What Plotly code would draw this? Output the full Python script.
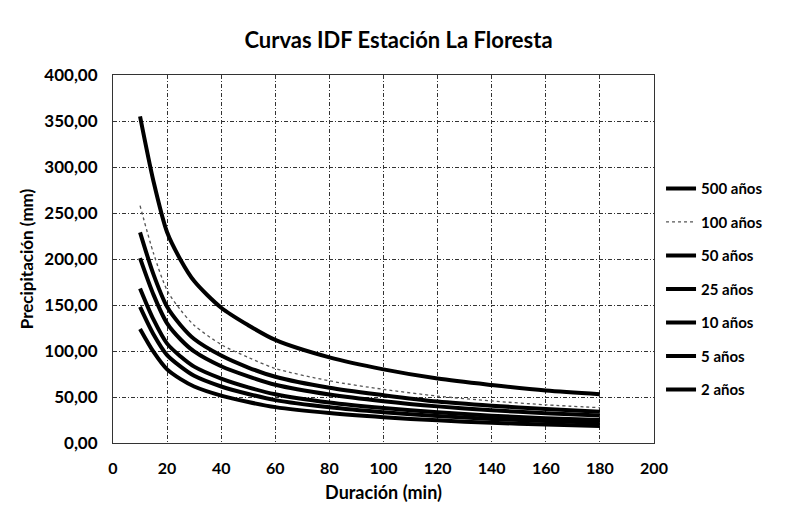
import plotly.graph_objects as go

durations = [10, 15, 20, 25, 30, 40, 50, 60, 80, 100, 120, 140, 160, 180]

p500 = [355, 284, 229, 199, 176, 147, 128, 112, 93, 80, 70, 63, 57, 53]
p100 = [258, 206, 166, 144.5, 128, 107, 93, 81, 67.6, 58.3, 51, 45.7, 41.5, 38.4]
p50 = [229, 183, 148, 128, 113, 95, 82, 72, 60, 52, 45, 40.5, 37, 34]
p25 = [201, 161, 130, 112.5, 99.5, 83.4, 72.4, 63.3, 52.7, 45.4, 39.8, 35.6, 32.4, 30]
p10 = [168, 134, 108, 94, 83, 70, 60.5, 53, 44, 38, 33.3, 29.7, 27, 25]
p5 = [148, 118, 95.5, 83, 73, 61.4, 53.3, 46.6, 38.8, 33.4, 29.3, 26.2, 23.8, 22]
p2 = [124, 99, 80, 69.4, 61.4, 51.5, 44.6, 39, 32.5, 28, 24.6, 22, 20, 18.5]

series_names = ["500 años", "100 años", "50 años", "25 años", "10 años", "5 años", "2 años"]
series_values = [p500, p100, p50, p25, p10, p5, p2]

x_ticks = [0, 20, 40, 60, 80, 100, 120, 140, 160, 180, 200]
y_ticks = [0, 50, 100, 150, 200, 250, 300, 350, 400]

FONT = "Lato"
GRID_DASH = "4px,2px,1px,2px"

fig = go.Figure()
for name, vals in zip(series_names, series_values):
    if name == "100 años":
        line = dict(color="#555555", width=1.3, dash="dot", shape="spline", smoothing=0.8)
    else:
        line = dict(color="#000000", width=4, shape="spline", smoothing=0.8)
    fig.add_trace(go.Scatter(
        x=durations, y=vals, mode="lines", name=name, line=line,
        legendgroup=name,
    ))

# page body has an 8px default margin, so the figure is sized 8px smaller
fig.update_layout(
    width=781, height=510,
    margin=dict(l=105, r=135, t=67, b=75, autoexpand=False),
    paper_bgcolor="white", plot_bgcolor="white",
    separators=",.",
    font=dict(family=FONT, color="#000000", size=14),
    title=dict(text="Curvas IDF Estación La Floresta", x=0.5, xanchor="center",
               y=0.937, yanchor="middle",
               font=dict(family=FONT, size=22, weight="bold", color="#000")),
    showlegend=True,
    legend=dict(x=1.013, xanchor="left", y=0.736, yanchor="top",
                font=dict(family=FONT, size=15, weight="bold", color="#000"),
                traceorder="grouped", tracegroupgap=11,
                itemwidth=30, bgcolor="rgba(0,0,0,0)"),
)

fig.update_xaxes(
    range=[0, 200], tickvals=x_ticks, ticktext=[str(v) for v in x_ticks],
    showgrid=True, gridcolor="#333333", gridwidth=1, griddash=GRID_DASH,
    showline=True, linecolor="#333333", linewidth=1, mirror=True,
    ticks="", zeroline=False, ticklabelstandoff=11,
    tickfont=dict(family=FONT, size=16, weight="bold"),
    title=dict(text="Duración (min)", font=dict(family=FONT, size=18, weight="bold"), standoff=10),
)
fig.update_yaxes(
    range=[0, 400], tickvals=y_ticks, tickformat=".2f",
    showgrid=True, gridcolor="#333333", gridwidth=1, griddash=GRID_DASH,
    showline=True, linecolor="#333333", linewidth=1, mirror=True,
    ticks="", zeroline=False, ticklabelstandoff=11,
    tickfont=dict(family=FONT, size=17, weight="bold"),
    title=dict(text="Precipitación (mm)", font=dict(family=FONT, size=17, weight="bold"), standoff=6),
)

fig.write_html("out.html")
